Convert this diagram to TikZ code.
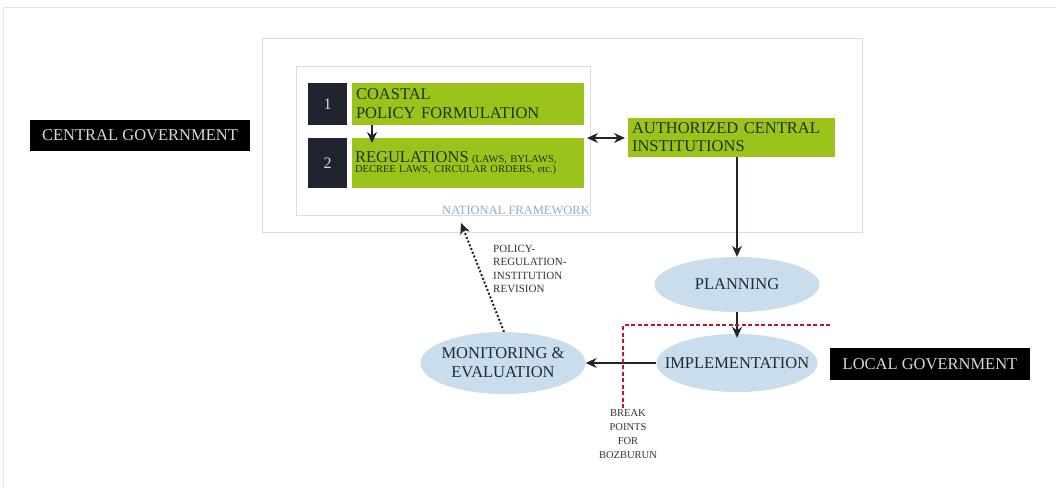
\documentclass[tikz,border=0pt]{standalone}
\usepackage{fontspec}
\setmainfont{Liberation Serif}
\usetikzlibrary{shapes.geometric,arrows.meta}
\definecolor{limeg}{HTML}{9CC31B}
\definecolor{darksq}{HTML}{1F2430}
\definecolor{ellblue}{HTML}{C9DDEC}
\definecolor{elltext}{HTML}{1E2B38}
\definecolor{greentext}{HTML}{26300E}
\definecolor{framegray}{HTML}{E2E2E2}
\definecolor{boxgray}{HTML}{DCDCDC}
\definecolor{natblue}{HTML}{8EAECB}
\definecolor{breakred}{HTML}{C0142A}
\tikzset{
  greenbox/.style={fill=limeg, inner xsep=4pt, inner ysep=0pt, align=left, text=greentext},
  numbox/.style={fill=darksq, text=white!85!black, minimum width=39pt, font=\fontsize{16}{18}\selectfont},
  govbox/.style={fill=black, text=white!85!black, inner sep=0pt, font=\fontsize{16.5}{18}\selectfont},
  ellnode/.style={ellipse, fill=ellblue, inner sep=0pt},
  elllabel/.style={text=elltext, align=center, inner sep=0pt, font=\fontsize{16.5}{19}\selectfont},
  tip/.tip={Stealth[length=11pt,width=10pt]},
  arr/.style={-tip, line width=1.4pt, draw=darksq},
  smalltxt/.style={font=\fontsize{11}{13.5}\selectfont, text=black!80, inner sep=0pt}
}
\begin{document}
\begin{tikzpicture}[x=1pt,y=-1pt]
\useasboundingbox (0,0) rectangle (1056,488);
\fill[white] (0,0) rectangle (1056,488);
\draw[framegray, line width=1pt] (3,488) |- (1056,7);
% outer central box
\node[draw=boxgray, line width=0.8pt, minimum width=600pt, minimum height=194pt, inner sep=0pt] (outer) at (562,135) {};
% national framework box
\node[draw=boxgray, line width=0.6pt, minimum width=294pt, minimum height=149pt, inner sep=0pt] (nat) at (443,140.5) {};
\node[smalltxt, text=natblue, anchor=south east, font=\fontsize{12.5}{14}\selectfont] (natlbl) at (590,215) {NATIONAL FRAMEWORK};
% boxes 1 and 2
\node[numbox, minimum height=42pt] (n1) at (327.5,104) {1};
\node[greenbox, minimum height=42pt, text width=224pt, font=\fontsize{16.5}{19}\selectfont] (g1) at (468,104) {COASTAL\\POLICY FORMULATION};
\node[numbox, minimum height=50pt] (n2) at (327.5,163) {2};
\node[greenbox, minimum height=50pt, text width=226pt, inner xsep=3pt] (g2) at (468,163) {\fontsize{16.5}{19}\selectfont REGULATIONS {\fontsize{10.5}{12}\selectfont(LAWS, BYLAWS,}\\[-2pt]{\fontsize{10.5}{12}\selectfont DECREE LAWS, CIRCULAR ORDERS, etc.)}};
% authorized
\node[greenbox, minimum width=207pt, minimum height=39pt, text width=199pt, font=\fontsize{16.5}{18}\selectfont] (auth) at (731.5,137.5) {AUTHORIZED CENTRAL\\INSTITUTIONS};
% government labels
\node[govbox, minimum width=220pt, minimum height=31pt] (cg) at (140,135.5) {CENTRAL GOVERNMENT};
\node[govbox, minimum width=200pt, minimum height=32pt] (lg) at (930,364) {LOCAL GOVERNMENT};
% ellipses
\node[ellnode, minimum width=165pt, minimum height=55pt, label={[elllabel]center:PLANNING}] (plan) at (737,284.5) {};
\node[ellnode, minimum width=161pt, minimum height=58pt, label={[elllabel]center:IMPLEMENTATION}] (impl) at (737,363) {};
\node[ellnode, minimum width=165pt, minimum height=62pt, label={[elllabel]center:MONITORING \&\\EVALUATION}] (mon) at (503,363) {};
% arrows
\coordinate (a1s) at (372,125);
\coordinate (a1e) at (372,143);
\draw[arr, line width=1.2pt] (a1s) -- (a1e);
\coordinate (dl) at (587,138);
\coordinate (dr) at (625,138);
\draw[tip-tip, line width=1.6pt, draw=darksq] (dl) -- (dr);
\draw[arr] (auth.south -| plan.north) -- (plan.north);
\draw[arr] (plan.south) -- ([yshift=-4pt]impl.north);
\draw[arr] (impl.west) -- (mon.east);
\coordinate (revtip) at (461,223);
\draw[-tip, line width=2pt, dotted, draw=darksq] ([xshift=1pt]mon.north) -- (revtip);
\node[smalltxt, align=left, anchor=north west] (revlbl) at (493,245) {POLICY-\\REGULATION-\\INSTITUTION\\REVISION};
% break line
\coordinate (bc) at (623,325);
\coordinate (br) at (830,325);
\coordinate (bb) at (623,408);
\draw[breakred, line width=2pt, dash pattern=on 4pt off 2.5pt] (br) -- (bc) -- (bb);
\node[smalltxt, align=center, anchor=north, font=\fontsize{10.5}{14}\selectfont] (brklbl) at (628,409) {BREAK\\POINTS\\FOR\\BOZBURUN};
\end{tikzpicture}
\end{document}
